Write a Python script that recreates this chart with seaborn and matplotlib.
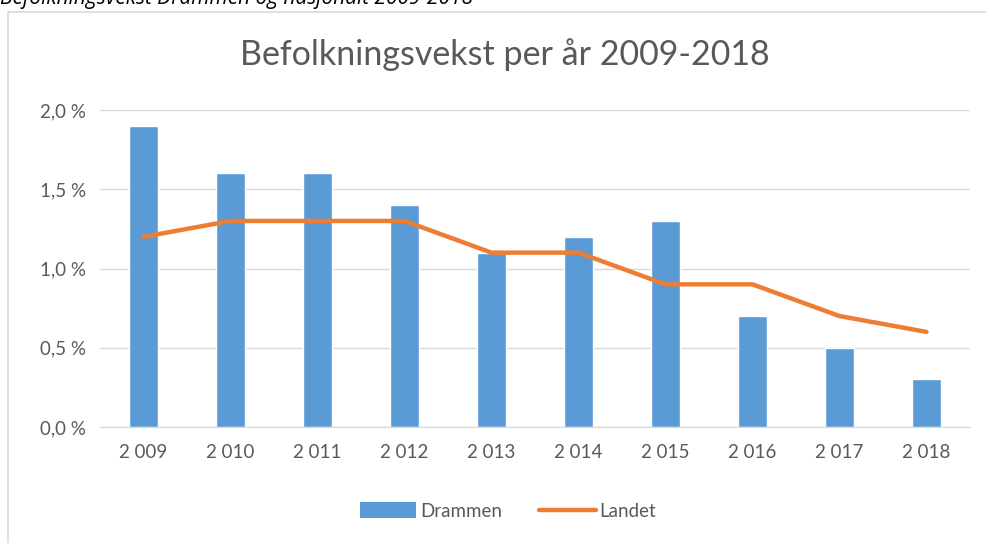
import matplotlib.pyplot as plt
import pandas as pd
import seaborn as sb
from matplotlib.lines import Line2D
from matplotlib.patches import Patch

years = ['2 009', '2 010', '2 011', '2 012', '2 013', '2 014', '2 015', '2 016', '2 017', '2 018']
drammen = [1.9, 1.6, 1.6, 1.4, 1.1, 1.2, 1.3, 0.7, 0.5, 0.3]
landet = [1.2, 1.3, 1.3, 1.3, 1.1, 1.1, 0.9, 0.9, 0.7, 0.6]
y_ticks = [0.0, 0.5, 1.0, 1.5, 2.0]
y_labels = ['0,0 %', '0,5 %', '1,0 %', '1,5 %', '2,0 %']

df = pd.DataFrame({'year': years, 'Drammen': drammen, 'Landet': landet})

sb.set_style('white')
plt.rcParams['font.family'] = ['Lato', 'DejaVu Sans']

fig = plt.figure(figsize=(9.86, 5.43), dpi=100)
ax = fig.add_axes([100 / 986, 1 - 427 / 543, 870 / 986, 317 / 543])

sb.barplot(data=df, x='year', y='Drammen', color='#5b9bd5', width=0.34,
           saturation=1, ax=ax, zorder=2)
ax.plot(range(len(years)), df['Landet'], color='#ed7d31', linewidth=3.2,
        solid_capstyle='round', zorder=3)

ax.set_ylim(0, 2.0)
ax.set_xlim(-0.5, len(years) - 0.5)
ax.set_yticks(y_ticks)
ax.set_yticklabels(y_labels)
ax.yaxis.grid(True, color='#d9d9d9', linewidth=1)
ax.set_axisbelow(True)
for s in ['top', 'right', 'left']:
    ax.spines[s].set_visible(False)
ax.spines['bottom'].set_color('#d9d9d9')
ax.tick_params(axis='both', length=0, colors='#595959', labelsize=13.5)
ax.tick_params(axis='x', pad=12)
ax.tick_params(axis='y', pad=10)
ax.set_xlabel('')
ax.set_ylabel('')

fig.text(505 / 986, 1 - 55 / 543, 'Befolkningsvekst per år 2009-2018', ha='center',
         va='center', fontsize=24.5, color='#595959')

# cut-off caption above the chart frame
fig.text(0, 1 - 4 / 543, 'Befolkningsvekst Drammen og nasjonalt 2009-2018', ha='left',
         va='baseline', fontsize=15, style='italic', color='#000000',
         family=['Open Sans', 'DejaVu Sans'])

# chart frame
fig.add_artist(Line2D([8 / 986, 1], [1 - 12 / 543, 1 - 12 / 543], color='#d9d9d9', linewidth=1.2))
fig.add_artist(Line2D([8 / 986, 8 / 986], [0, 1 - 12 / 543], color='#d9d9d9', linewidth=1.2))

handles = [Patch(facecolor='#5b9bd5', edgecolor='none'),
           Line2D([0], [0], color='#ed7d31', linewidth=3.2)]
fig.legend(handles, ['Drammen', 'Landet'], loc='center', bbox_to_anchor=(508 / 986, 1 - 511 / 543),
           ncol=2, frameon=False, fontsize=13.5, labelcolor='#595959',
           handlelength=3.0, handleheight=0.9, columnspacing=2.0, handletextpad=0.2)

fig.savefig('out.png', dpi=100)
